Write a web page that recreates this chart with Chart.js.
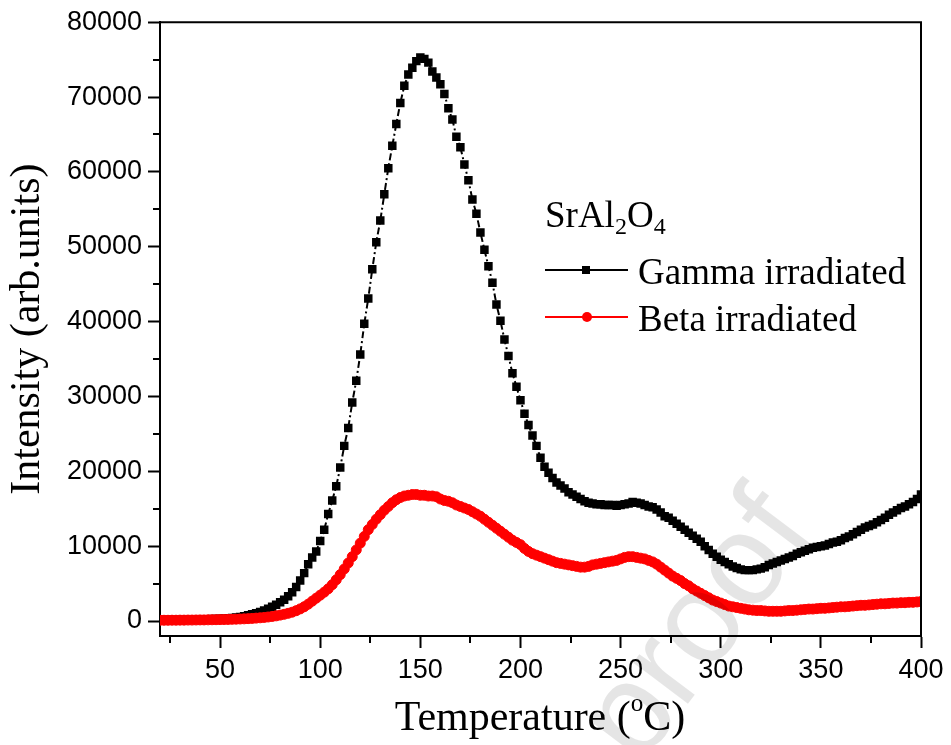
<!DOCTYPE html>
<html>
<head>
<meta charset="utf-8">
<script src="https://cdn.jsdelivr.net/npm/chart.js@4/dist/chart.umd.min.js"></script>
<style>
  body { margin: 0; background: #fff; }
  #wrap { position: relative; width: 951px; height: 745px; overflow: hidden; }
  .serif { position: absolute; font-family: "Liberation Serif", "Times New Roman", serif; color: #000; white-space: nowrap; line-height: 1; }
  .lg-line { position: absolute; height: 2px; }
  #wm { position: absolute; right: 170px; top: 440px; height: 130px; line-height: 130px; font-family: "Liberation Sans", Arial, sans-serif; font-size: 130px; color: rgba(0,0,0,0.1); white-space: nowrap; transform-origin: 100% 50%; transform: rotate(-53deg); pointer-events: none; }
</style>
</head>
<body>
<div id="wrap">
  <canvas id="chartTL" width="951" height="745"></canvas>

  <!-- legend -->
  <div class="serif" style="left:545px;top:196px;font-size:37px">SrAl<sub style="font-size:0.65em;vertical-align:-0.3em">2</sub>O<sub style="font-size:0.65em;vertical-align:-0.3em">4</sub></div>
  <div class="lg-line" style="left:545px;top:269px;width:83px;background:#000"></div>
  <div style="position:absolute;left:582px;top:266px;width:8px;height:8px;background:#000"></div>
  <div class="serif" style="left:638px;top:253px;font-size:37px">Gamma irradiated</div>
  <div class="lg-line" style="left:545px;top:316px;width:83px;background:#f00"></div>
  <div style="position:absolute;left:582px;top:312px;width:10px;height:10px;border-radius:50%;background:#f00"></div>
  <div class="serif" style="left:638px;top:300px;font-size:37px">Beta irradiated</div>

  <!-- x axis title -->
  <div class="serif" style="left:290px;width:500px;text-align:center;top:695px;font-size:42px">Temperature (<span style="font-size:0.6em;position:relative;top:-0.75em">o</span>C)</div>

  <div id="wm">Journal Pre-proof</div>
</div>

<script>
// temperature (°C)
const temps = [
  20, 22, 24, 26, 28, 30, 32, 34, 36, 38, 40, 42, 44, 46, 48, 50, 52, 54, 56, 58,
  60, 62, 64, 66, 68, 70, 72, 74, 76, 78, 80, 82, 84, 86, 88, 90, 92, 94, 96, 98,
  100, 102, 104, 106, 108, 110, 112, 114, 116, 118, 120, 122, 124, 126, 128, 130, 132, 134, 136, 138,
  140, 142, 144, 146, 148, 150, 152, 154, 156, 158, 160, 162, 164, 166, 168, 170, 172, 174, 176, 178,
  180, 182, 184, 186, 188, 190, 192, 194, 196, 198, 200, 202, 204, 206, 208, 210, 212, 214, 216, 218,
  220, 222, 224, 226, 228, 230, 232, 234, 236, 238, 240, 242, 244, 246, 248, 250, 252, 254, 256, 258,
  260, 262, 264, 266, 268, 270, 272, 274, 276, 278, 280, 282, 284, 286, 288, 290, 292, 294, 296, 298,
  300, 302, 304, 306, 308, 310, 312, 314, 316, 318, 320, 322, 324, 326, 328, 330, 332, 334, 336, 338,
  340, 342, 344, 346, 348, 350, 352, 354, 356, 358, 360, 362, 364, 366, 368, 370, 372, 374, 376, 378,
  380, 382, 384, 386, 388, 390, 392, 394, 396, 398, 400
];

const gamma = [
  150, 150, 160, 160, 170, 170, 180, 180, 190, 200, 210, 220, 240, 260, 280, 300, 330, 370, 420, 480,
  550, 650, 760, 890, 1040, 1220, 1420, 1640, 1900, 2180, 2500, 2850, 3300, 3850, 4550, 5400, 6400, 7600, 8500, 9300,
  10700, 12200, 14300, 16100, 18000, 20500, 23400, 25800, 29200, 32100, 35600, 39700, 43100, 47000, 50600, 53500, 57000, 60500, 63500, 66400,
  69200, 71500, 73000, 73900, 74800, 75300, 75100, 74600, 73400, 72600, 71700, 70400, 68500, 67000, 64700, 63300, 61000, 58900, 56300, 54400,
  51900, 49600, 47400, 45200, 42300, 40100, 37600, 35400, 33100, 31300, 29500, 27700, 26200, 24800, 23400, 21800, 20600, 19800, 19100, 18500,
  18100, 17700, 17200, 16900, 16600, 16300, 16000, 15800, 15700, 15600, 15600, 15500, 15500, 15500, 15400, 15500, 15600, 15700, 15900, 15800,
  15700, 15500, 15300, 15200, 14900, 14500, 14000, 13800, 13400, 13000, 12600, 12200, 11800, 11400, 11000, 10600, 10000, 9500, 9000, 8600,
  8200, 7900, 7600, 7300, 7100, 6900, 6800, 6800, 6800, 6900, 7000, 7200, 7500, 7700, 7900, 8100, 8300, 8500, 8700, 9000,
  9200, 9400, 9600, 9800, 9900, 10000, 10100, 10300, 10500, 10600, 10800, 11100, 11300, 11600, 11900, 12200, 12500, 12700, 12900, 13200,
  13500, 13800, 14200, 14500, 14800, 15100, 15300, 15600, 15900, 16300, 16900
];

const beta = [
  100, 100, 100, 110, 110, 120, 120, 130, 130, 140, 150, 150, 160, 170, 180, 190, 200, 210, 230, 250,
  270, 290, 320, 350, 390, 430, 480, 540, 610, 690, 790, 900, 1030, 1180, 1380, 1620, 1900, 2250, 2650, 3050,
  3450, 3850, 4300, 4850, 5500, 6200, 6950, 7750, 8600, 9500, 10400, 11300, 12200, 12900, 13600, 14200, 14800, 15300, 15800, 16200,
  16500, 16700, 16800, 16900, 16900, 16800, 16800, 16700, 16700, 16600, 16300, 16100, 16000, 15800, 15500, 15300, 15100, 14900, 14600, 14300,
  14000, 13600, 13200, 12800, 12400, 12000, 11600, 11200, 10800, 10500, 10200, 9700, 9300, 9000, 8800, 8600, 8400, 8200, 8000, 7800,
  7700, 7600, 7500, 7400, 7300, 7200, 7200, 7300, 7500, 7600, 7700, 7800, 7900, 8000, 8100, 8300, 8500, 8600, 8600, 8500,
  8400, 8300, 8100, 7900, 7600, 7200, 6800, 6400, 6000, 5700, 5400, 5000, 4700, 4300, 4000, 3700, 3400, 3100, 2800, 2600,
  2400, 2200, 2000, 1900, 1800, 1700, 1600, 1500, 1450, 1400, 1400, 1350, 1300, 1300, 1300, 1300, 1350, 1400, 1400, 1450,
  1500, 1550, 1600, 1600, 1650, 1700, 1700, 1750, 1800, 1850, 1900, 1900, 1950, 2000, 2050, 2100, 2100, 2150, 2200, 2250,
  2300, 2300, 2350, 2400, 2400, 2450, 2450, 2500, 2500, 2550, 2600
];

const xTicks = [50, 100, 150, 200, 250, 300, 350, 400];
const xMinor = [25, 75, 125, 175, 225, 275, 325, 375];
const yTicks = [0, 10000, 20000, 30000, 40000, 50000, 60000, 70000, 80000];
const yMinor = [5000, 15000, 25000, 35000, 45000, 55000, 65000, 75000];

const sansFont = { family: '"Liberation Sans", Arial, sans-serif', size: 27 };

// frame on top/right + minor ticks
const frameTicks = {
  id: 'frameTicks',
  afterDraw(chart) {
    const { ctx, chartArea: a, scales } = chart;
    ctx.save();
    ctx.strokeStyle = '#000';
    ctx.lineWidth = 2;
    ctx.beginPath();
    ctx.moveTo(a.left, a.top); ctx.lineTo(a.right, a.top); ctx.lineTo(a.right, a.bottom);
    xMinor.forEach(v => {
      const px = Math.round(scales.x.getPixelForValue(v));
      ctx.moveTo(px, a.bottom); ctx.lineTo(px, a.bottom + 7);
    });
    yMinor.forEach(v => {
      const py = Math.round(scales.y.getPixelForValue(v));
      ctx.moveTo(a.left, py); ctx.lineTo(a.left - 7, py);
    });
    ctx.stroke();
    ctx.restore();
  }
};

const ptsOf = arr => temps.map((t, i) => ({ x: t, y: arr[i] }));

new Chart(document.getElementById('chartTL'), {
  type: 'line',
  data: {
    datasets: [
      {
        label: 'Gamma irradiated', data: ptsOf(gamma), order: 1,
        borderColor: '#000', borderWidth: 2, borderDash: [7, 3, 2, 3],
        pointStyle: 'rect', pointRadius: 6, pointBorderWidth: 0,
        pointBackgroundColor: '#000', pointBorderColor: '#000', tension: 0
      },
      {
        label: 'Beta irradiated', data: ptsOf(beta), order: 0,
        borderColor: '#f00', borderWidth: 2,
        pointStyle: 'circle', pointRadius: 5, pointBorderWidth: 1,
        pointBackgroundColor: '#f00', pointBorderColor: '#f00', tension: 0
      }
    ]
  },
  options: {
    responsive: false, animation: false,
    layout: { padding: { top: 20, right: 30, bottom: 0, left: 0 } },
    plugins: { legend: { display: false }, tooltip: { enabled: false } },
    scales: {
      x: {
        type: 'linear', min: 20, max: 400,
        afterBuildTicks: s => { s.ticks = xTicks.map(v => ({ value: v })); },
        afterFit: s => { s.height = 109; },
        grid: { display: true, drawOnChartArea: false, drawTicks: true, tickLength: 12, tickWidth: 2, tickColor: '#000', color: '#000' },
        border: { display: true, color: '#000', width: 2 },
        ticks: { font: sansFont, color: '#000', padding: 6, maxRotation: 0, autoSkip: false, callback: v => String(v) }
      },
      y: {
        min: -2000, max: 80000,
        afterBuildTicks: s => { s.ticks = yTicks.map(v => ({ value: v })); },
        afterFit: s => { s.width = 160; },
        grid: { display: true, drawOnChartArea: false, drawTicks: true, tickLength: 12, tickWidth: 2, tickColor: '#000', color: '#000' },
        border: { display: true, color: '#000', width: 2 },
        ticks: { font: sansFont, color: '#000', padding: 6, autoSkip: false, callback: v => String(v) },
        title: {
          display: true, text: 'Intensity (arb.units)', color: '#000',
          font: { family: '"Liberation Serif", "Times New Roman", serif', size: 42 },
          padding: { top: 3, bottom: 0 }
        }
      }
    }
  },
  plugins: [frameTicks]
});
</script>
</body>
</html>
